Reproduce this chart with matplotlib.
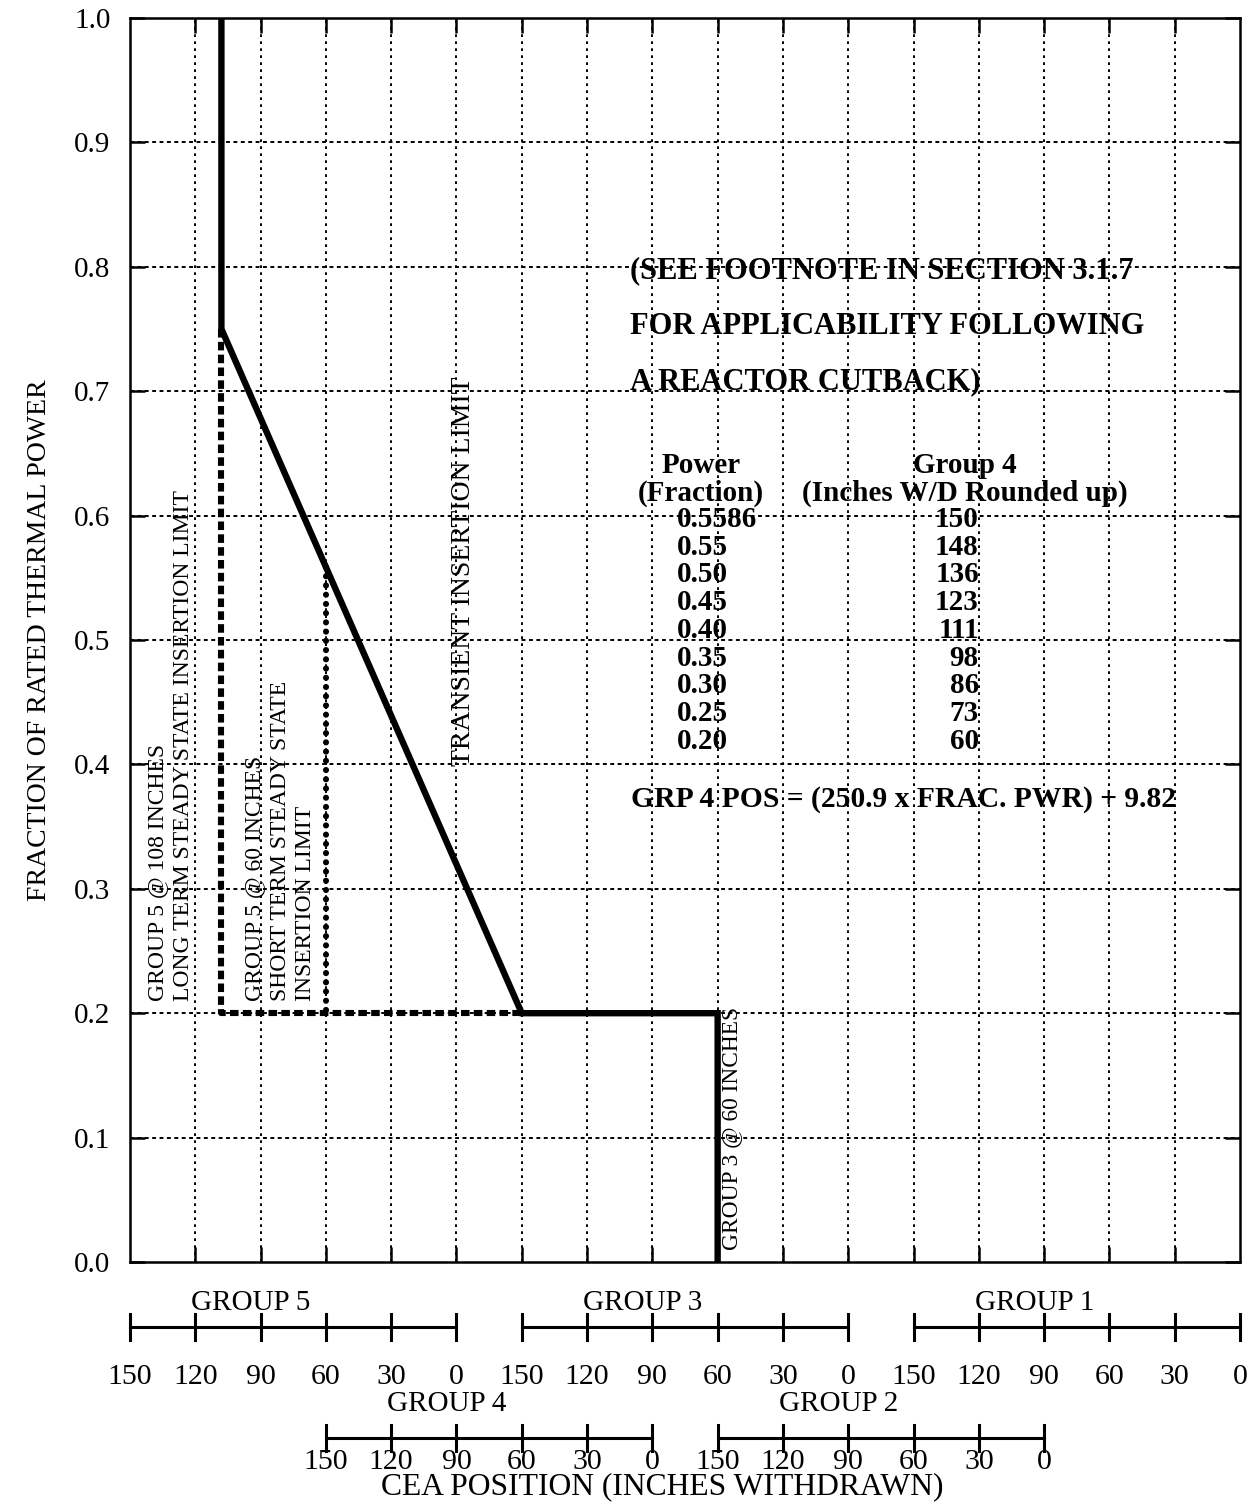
import numpy as np
import matplotlib.pyplot as plt

plt.rcParams['font.family'] = ['Liberation Serif', 'DejaVu Serif']

# DATA
power_ticks = [0.0, 0.1, 0.2, 0.3, 0.4, 0.5, 0.6, 0.7, 0.8, 0.9, 1.0]
inch_ticks = [150, 120, 90, 60, 30, 0]
scale_row1 = [5, 3, 1]
scale_row2 = [4, 2]

# limit curves: (group, inches withdrawn, power fraction)
transient_group = [5, 5, 4, 3, 3]
transient_inches = [108, 108, 60, 60, 60]
transient_power = [1.0, 0.75, 0.2, 0.2, 0.0]

long_term_group = [5, 5, 4]
long_term_inches = [108, 108, 60]
long_term_power = [0.75, 0.2, 0.2]

short_term_group = [5, 5]
short_term_inches = [60, 60]
short_term_power = [0.5586, 0.2]

table_power = ["0.5586", "0.55", "0.50", "0.45", "0.40", "0.35", "0.30", "0.25", "0.20"]
table_grp4 = [150, 148, 136, 123, 111, 98, 86, 73, 60]

# composite CEA axis: each group spans 150 -> 0 inches (5 units of 30 in)
GROUP_START = {5: 0, 4: 3, 3: 6, 2: 9, 1: 12}


def cea_x(groups, inches):
    return [GROUP_START[g] + (150 - i) / 30 for g, i in zip(groups, inches)]


fig = plt.figure(figsize=(12.55, 15.05), dpi=100)
ax = fig.add_axes([130 / 1255, 243 / 1505, 1110 / 1255, 1244 / 1505])
ax.set_xlim(0, 17)
ax.set_ylim(0, 1)

# grid
for xv in range(1, 17):
    ax.axvline(xv, color='black', lw=1.4, ls=(0, (1.4, 2.2)), zorder=1)
for yv in power_ticks[1:-1]:
    ax.axhline(yv, color='black', lw=1.4, ls=(0, (2.0, 1.8)), zorder=1)

# limit lines
ax.plot(cea_x(long_term_group, long_term_inches), long_term_power,
        color='black', lw=4.4, ls=(0, (1.4, 0.7)), dash_capstyle='butt', zorder=3)
ax.plot(cea_x(short_term_group, short_term_inches), short_term_power,
        color='black', lw=4.4, ls=(0, (0.01, 1.5)), dash_capstyle='round', zorder=3)
ax.plot(cea_x(transient_group, transient_inches), transient_power,
        color='black', lw=4.6, solid_joinstyle='miter', zorder=4)

# axis styling
for s in ax.spines.values():
    s.set_linewidth(1.8)
ax.set_yticks(power_ticks)
ax.set_yticklabels([f"{p:.1f}" for p in power_ticks], fontsize=21)
ax.set_xticks(range(1, 17))
ax.set_xticklabels([])
ax.tick_params(direction='in', length=11, width=1.8, top=True, right=True, pad=14)

fig.text(40 / 1255, 1 - 640 / 1505, "FRACTION OF RATED THERMAL POWER",
         rotation=90, ha='center', va='center', fontsize=20)

# rotated annotations
ax.text(0.62, 0.21, "GROUP 5 @ 108 INCHES\nLONG TERM STEADY STATE INSERTION LIMIT",
        rotation=90, ha='center', va='bottom', multialignment='left',
        fontsize=17, linespacing=1.3)
ax.text(2.30, 0.21, "GROUP 5 @ 60 INCHES\nSHORT TERM STEADY STATE\nINSERTION LIMIT",
        rotation=90, ha='center', va='bottom', multialignment='left',
        fontsize=17, linespacing=1.3)
ax.text(5.1, 0.399, "TRANSIENT INSERTION LIMIT",
        rotation=90, ha='center', va='bottom', fontsize=20)
ax.text(9.22, 0.01, "GROUP 3 @ 60 INCHES",
        rotation=90, ha='center', va='bottom', fontsize=16.8)

# note and table
note = ["(SEE FOOTNOTE IN SECTION 3.1.7", "FOR APPLICABILITY FOLLOWING", "A REACTOR CUTBACK)"]
for k, line in enumerate(note):
    ax.text(7.66, 0.797 - k * 0.0448, line, ha='left', va='center',
            fontsize=22, fontweight='bold')

ax.text(8.74, 0.640, "Power", ha='center', va='center', fontsize=21, fontweight='bold')
ax.text(8.74, 0.618, "(Fraction)", ha='center', va='center', fontsize=21, fontweight='bold')
ax.text(12.78, 0.640, "Group 4", ha='center', va='center', fontsize=21, fontweight='bold')
ax.text(12.78, 0.618, "(Inches W/D Rounded up)", ha='center', va='center',
        fontsize=21, fontweight='bold')
for k, (p, g) in enumerate(zip(table_power, table_grp4)):
    yy = 0.597 - k * 0.0223
    ax.text(8.38, yy, p, ha='left', va='center', fontsize=21, fontweight='bold')
    ax.text(13.0, yy, str(g), ha='right', va='center', fontsize=21, fontweight='bold')

ax.text(7.68, 0.372, "GRP 4 POS = (250.9 x FRAC. PWR) + 9.82", ha='left', va='center',
        fontsize=21.3, fontweight='bold')

# group scales below the plot
trans = ax.get_xaxis_transform()


def frac(py):
    return (1262 - py) / 1244


def draw_scale(groups, bar_py, label_py, num_py):
    yb = frac(bar_py)
    for g in groups:
        x0 = GROUP_START[g]
        xs = cea_x([g] * len(inch_ticks), inch_ticks)
        ax.plot([xs[0], xs[-1]], [yb, yb], color='black', lw=2.2,
                transform=trans, clip_on=False)
        for xv, inch in zip(xs, inch_ticks):
            ax.plot([xv, xv], [yb - 0.0105, yb + 0.0105], color='black', lw=2.2,
                    transform=trans, clip_on=False)
            ax.text(xv, frac(num_py), str(inch), ha='center', va='center',
                    fontsize=21.5, transform=trans, clip_on=False)
        ax.text(x0 + 1.85, frac(label_py), f"GROUP {g}", ha='center', va='center',
                fontsize=21, transform=trans, clip_on=False)


draw_scale(scale_row1, 1327, 1303, 1377)
draw_scale(scale_row2, 1438, 1404, 1462)

ax.text(8.15, frac(1487), "CEA POSITION (INCHES WITHDRAWN)", ha='center', va='center',
        fontsize=22.8, transform=trans, clip_on=False)

fig.savefig("out.png", dpi=100)
